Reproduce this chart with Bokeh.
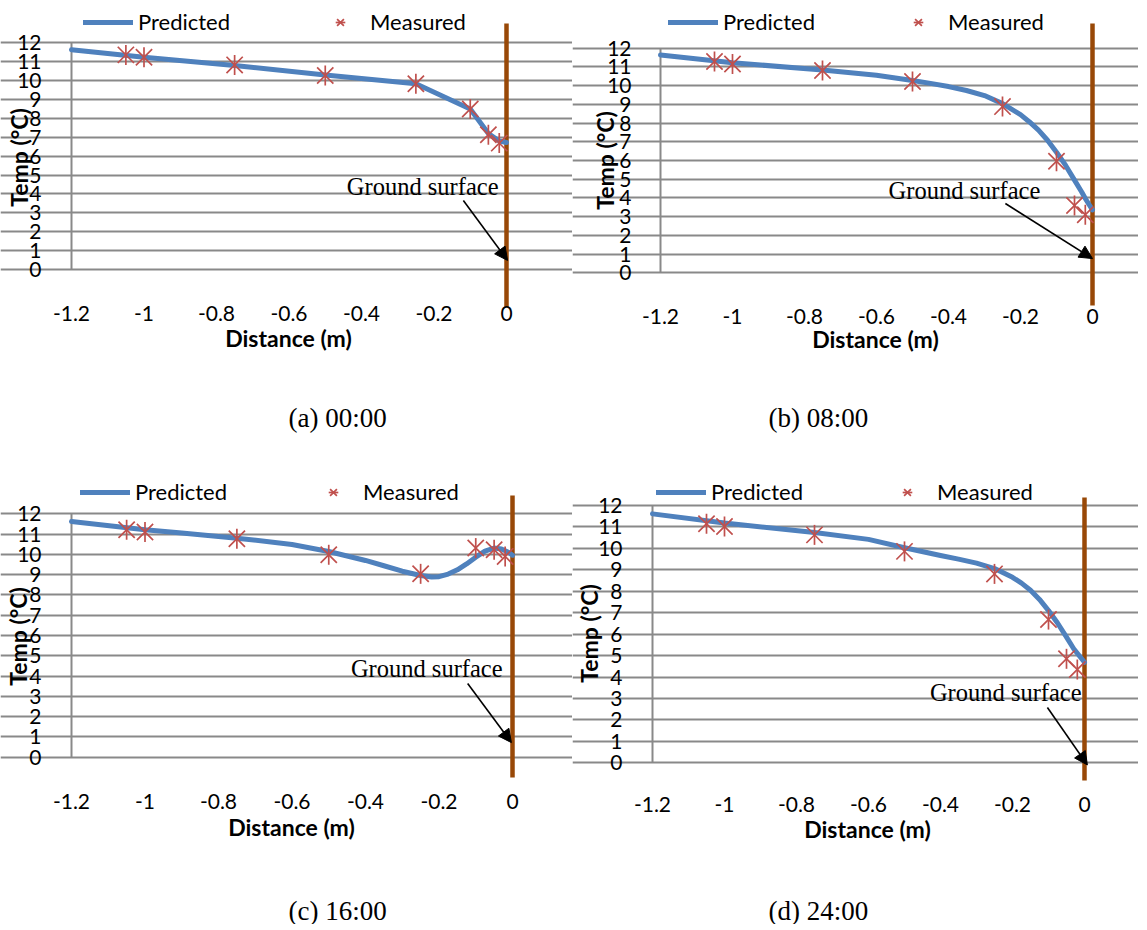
import math
from bokeh.plotting import figure
from bokeh.layouts import column, row
from bokeh.models import (FixedTicker, Legend, LegendItem, Arrow, NormalHead,
                          Range1d, CustomJSTickFormatter)
from bokeh.core.properties import value
from bokeh.embed import file_html
from bokeh.resources import INLINE

# ---------------- data ----------------
x_ticks = [-1.2, -1.0, -0.8, -0.6, -0.4, -0.2, 0.0]
y_ticks = list(range(0, 13))

measured_x = [-1.05, -1.0, -0.75, -0.5, -0.25, -0.1, -0.05, -0.02]
measured_a = [11.36, 11.24, 10.83, 10.27, 9.83, 8.50, 7.13, 6.69]
measured_b = [11.29, 11.16, 10.81, 10.22, 8.88, 5.96, 3.60, 3.10]
measured_c = [11.21, 11.10, 10.77, 9.98, 9.04, 10.31, 10.23, 9.90]
measured_d = [11.15, 11.02, 10.63, 9.86, 8.81, 6.68, 4.85, 4.35]

pred_x_a = [-1.2, -1.0, -0.75, -0.5, -0.25, -0.1, -0.05, -0.02, 0.0]
pred_a = [11.63, 11.24, 10.80, 10.30, 9.83, 8.50, 7.20, 6.80, 6.72]

pred_x_b = [-1.2, -1.0, -0.75, -0.6, -0.5, -0.45, -0.4, -0.35, -0.3, -0.25, -0.2, -0.175,
            -0.15, -0.125, -0.1, -0.075, -0.05, -0.03, -0.02, -0.01, 0.0]
pred_b = [11.64, 11.22, 10.84, 10.55, 10.27, 10.12, 9.95, 9.74, 9.47, 9.04, 8.45, 8.06,
          7.62, 7.08, 6.44, 5.75, 4.95, 4.32, 3.97, 3.66, 3.36]

pred_x_c = [-1.2, -1.0, -0.9, -0.75, -0.6, -0.5, -0.4, -0.35, -0.3, -0.25, -0.22, -0.2,
            -0.175, -0.15, -0.125, -0.1, -0.075, -0.05, -0.03, -0.01, 0.0]
pred_c = [11.62, 11.21, 11.05, 10.80, 10.49, 10.14, 9.70, 9.44, 9.17, 8.96, 8.88, 8.90,
          9.03, 9.24, 9.53, 9.86, 10.16, 10.31, 10.26, 10.09, 9.96]

pred_x_d = [-1.2, -1.0, -0.75, -0.6, -0.5, -0.4, -0.35, -0.3, -0.25, -0.2, -0.175, -0.15,
            -0.125, -0.1, -0.075, -0.05, -0.03, -0.01, 0.0]
pred_d = [11.61, 11.18, 10.74, 10.42, 10.03, 9.67, 9.50, 9.31, 9.06, 8.65, 8.38, 8.05,
          7.62, 7.10, 6.52, 5.86, 5.32, 4.90, 4.69]

captions = ["(a) 00:00", "(b) 08:00", "(c) 16:00", "(d) 24:00"]
series_names = ["Predicted", "Measured"]
surface_label = "Ground surface"
x_title = "Distance (m)"
y_title = "Temp (°C)"

# annotation anchors (data coords)
label_pos = [(-0.022, 4.39), (-0.145, 4.40), (-0.027, 4.37), (-0.008, 3.28)]
arrow_pos = [(-0.119, 3.65, 0.003, 0.48), (-0.242, 3.70, 0.0, 0.76),
             (-0.122, 3.63, -0.003, 0.72), (-0.103, 2.58, 0.008, -0.10)]

# ---------------- styling / layout (pixel positions on the page) ----------------
BLUE = "#4F81BD"
RED = "#C0504D"
BROWN = "#984807"
GRID = "#898989"
SANS = "Lato"
SERIF = "Liberation Serif"

COLS = [dict(left=0, w=572), dict(left=572, w=566)]
ROWS = [dict(top=0, h=460), dict(top=460, h=464)]

PANELS = [
    dict(col=0, row=0, x0px=71, x1px=506, y0px=269.0, y12px=42.3, tick_st=24, xaxis_py=299,
         leg_x=83, leg_y=23, lw=177, brown=(23, 307), cap=(288, 417), xlab=(288, 337),
         ylab=(18, 157)),
    dict(col=1, row=0, x0px=660, x1px=1092, y0px=272.3, y12px=47.7, tick_st=23, xaxis_py=302,
         leg_x=668, leg_y=23, lw=170, brown=(23, 305), cap=(768, 417), xlab=(875, 338),
         ylab=(604, 160)),
    dict(col=0, row=1, x0px=71, x1px=512, y0px=756.7, y12px=513.3, tick_st=24, xaxis_py=787,
         leg_x=80, leg_y=493, lw=173, brown=(495, 777), cap=(288, 910), xlab=(291, 826),
         ylab=(17, 636)),
    dict(col=1, row=1, x0px=652, x1px=1084, y0px=762.3, y12px=505.0, tick_st=24, xaxis_py=790,
         leg_x=656, leg_y=493, lw=171, brown=(497, 780), cap=(768, 910), xlab=(867, 828),
         ylab=(588, 633)),
]

preds = [(pred_x_a, pred_a), (pred_x_b, pred_b), (pred_x_c, pred_c), (pred_x_d, pred_d)]
meas = [measured_a, measured_b, measured_c, measured_d]


def make_panel(i):
    pn = PANELS[i]
    c = COLS[pn["col"]]
    r = ROWS[pn["row"]]
    sx = (pn["x1px"] - pn["x0px"]) / 1.2
    sy = (pn["y0px"] - pn["y12px"]) / 12.0

    def X(px):
        return -1.2 + (px - pn["x0px"]) / sx

    def Y(py):
        return (pn["y0px"] - py) / sy

    xs, xe = X(c["left"]), X(c["left"] + c["w"])
    ytop, ybot = Y(r["top"]), Y(r["top"] + r["h"])

    p = figure(width=c["w"], height=r["h"], x_range=Range1d(xs, xe),
               y_range=Range1d(ybot, ytop), min_border=0,
               output_backend="svg", toolbar_location=None)
    p.outline_line_color = None
    p.xgrid.grid_line_color = None
    p.ygrid.ticker = FixedTicker(ticks=y_ticks)
    p.ygrid.bounds = (-1.2, 0.0)
    p.ygrid.grid_line_color = GRID
    p.ygrid.grid_line_width = 2

    for ax in (p.xaxis[0], p.yaxis[0]):
        ax.axis_line_color = None
        ax.major_tick_line_color = None
        ax.minor_tick_line_color = None
        ax.major_label_text_font = SANS
        ax.major_label_text_font_size = "21px"
        ax.major_label_text_color = "black"
    p.xaxis.ticker = FixedTicker(ticks=x_ticks)
    p.xaxis.formatter = CustomJSTickFormatter(
        code="var s = tick.toFixed(1); s = s.replace(/\\.0$/, ''); if (s === '-0') s = '0'; return s;")
    p.xaxis.major_label_standoff = 0
    p.xaxis.fixed_location = Y(pn["xaxis_py"])
    p.yaxis.ticker = FixedTicker(ticks=y_ticks)
    p.yaxis.major_label_standoff = pn["tick_st"]
    p.yaxis.fixed_location = -1.2

    # axis titles and caption as text
    lx, ly = pn["xlab"]
    p.text(x=[X(lx)], y=[Y(ly)], text=[x_title], text_align="center", text_baseline="middle",
           text_font=value(SANS), text_font_size="23px", text_font_style="bold",
           text_color="black")
    lx, ly = pn["ylab"]
    p.text(x=[X(lx)], y=[Y(ly)], text=[y_title], angle=math.pi / 2, text_align="center",
           text_baseline="middle", text_font=value(SANS), text_font_size="23px",
           text_font_style="bold", text_color="black")
    cx, cy = pn["cap"]
    p.text(x=[X(cx)], y=[Y(cy)], text=[captions[i]], text_align="left", text_baseline="middle",
           text_font=value(SERIF), text_font_size="27px", text_color="black")

    # left vertical axis line (0..12)
    p.segment(x0=[-1.2], y0=[0], x1=[-1.2], y1=[12], line_color=GRID, line_width=2)

    # ground surface line
    bt, bb = pn["brown"]
    p.segment(x0=[0.0], y0=[Y(bb)], x1=[0.0], y1=[Y(bt)], line_color=BROWN, line_width=4.5)

    px_, py_ = preds[i]
    lr = p.line(px_, py_, line_color=BLUE, line_width=5, line_cap="round", line_join="round")
    sr1 = p.scatter(measured_x, meas[i], marker="x", size=23, line_color=RED, line_width=1.7)
    sr2 = p.scatter(measured_x, meas[i], marker="dash", angle=math.pi / 2, size=20,
                    line_color=RED, line_width=1.7)

    tx, ty = label_pos[i]
    p.text(x=[tx], y=[ty], text=[surface_label], text_align="right", text_baseline="middle",
           text_font=value(SERIF), text_font_size="24.5px", text_color="black")
    ax0, ay0, ax1, ay1 = arrow_pos[i]
    p.add_layout(Arrow(end=NormalHead(size=13, fill_color="black", line_color="black"),
                       x_start=ax0, y_start=ay0, x_end=ax1, y_end=ay1,
                       line_color="black", line_width=1.6))

    leg = Legend(items=[LegendItem(label=series_names[0], renderers=[lr]),
                        LegendItem(label=series_names[1], renderers=[sr1, sr2])],
                 location=(pn["leg_x"] - c["left"], r["top"] + r["h"] - (pn["leg_y"] + 12)),
                 orientation="horizontal", glyph_width=50, glyph_height=24,
                 label_height=24, label_width=pn["lw"], label_standoff=5, spacing=0,
                 padding=0, margin=0, border_line_color=None, background_fill_alpha=0,
                 label_text_font=SANS, label_text_font_size="22px",
                 label_text_color="black")
    p.add_layout(leg)
    return p


panels = [make_panel(i) for i in range(4)]
layout = column(row(panels[0], panels[1]), row(panels[2], panels[3]))

open("out.html", "w").write(file_html(layout, INLINE))
